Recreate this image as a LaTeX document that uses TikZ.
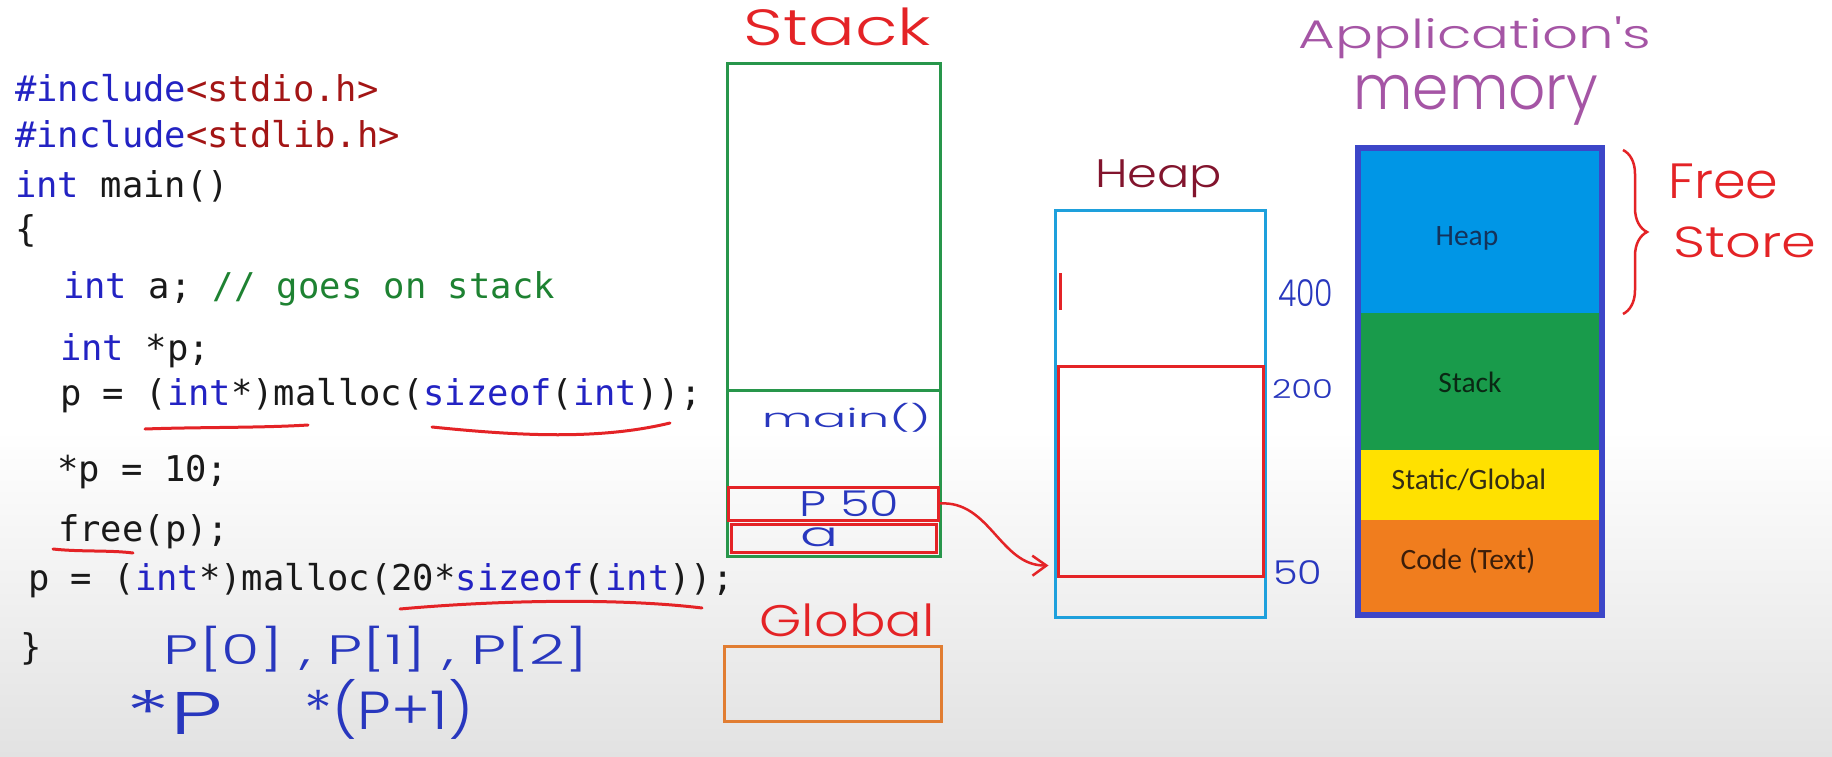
\documentclass[tikz,border=0pt]{standalone}
\usepackage{fontspec}
\usepackage{graphicx}
\setmonofont{DejaVu Sans Mono}
\IfFontExistsTF{Poppins Light}{\newfontfamily\hwfont{Poppins Light}}{\newfontfamily\hwfont{Poppins}}
\newfontfamily\calfont{Carlito}
\usetikzlibrary{fit,decorations.pathreplacing,arrows.meta}
\definecolor{bggray}{RGB}{226,226,226}
\definecolor{codeblue}{RGB}{35,35,195}
\definecolor{codered}{RGB}{163,21,21}
\definecolor{codegreen}{RGB}{30,130,50}
\definecolor{codeblack}{RGB}{25,25,25}
\definecolor{stkgreen}{RGB}{40,150,75}
\definecolor{hred}{RGB}{228,35,38}
\definecolor{globorange}{RGB}{225,125,50}
\definecolor{heapcyan}{RGB}{30,160,220}
\definecolor{memblue}{RGB}{60,70,200}
\definecolor{memheap}{RGB}{0,150,230}
\definecolor{memstack}{RGB}{25,155,75}
\definecolor{memyellow}{RGB}{255,225,0}
\definecolor{memorange}{RGB}{240,125,30}
\definecolor{hwblue}{RGB}{40,55,190}
\definecolor{hwmaroon}{RGB}{130,20,45}
\definecolor{hwpurple}{RGB}{165,85,165}
\newcommand\kw[1]{\textcolor{codeblue}{#1}}
\newcommand\cstr[1]{\textcolor{codered}{#1}}
\newcommand\cmt[1]{\textcolor{codegreen}{#1}}
\newcommand\hwbox[3]{\resizebox*{#1pt}{#2pt}{#3}}
\tikzset{
  code/.style={anchor=base west, inner sep=0pt, text=codeblack,
    font=\ttfamily\fontsize{35.5}{40}\selectfont},
  hw/.style={inner sep=0pt, font=\hwfont},
  gbox/.style={draw=stkgreen, line width=3pt, inner sep=0pt},
  rbox/.style={draw=hred, line width=3pt, inner sep=0pt},
  obox/.style={draw=globorange, line width=3pt, inner sep=0pt},
  cbox/.style={draw=heapcyan, line width=3pt, inner sep=0pt},
  redstroke/.style={draw=hred, line width=3pt, line cap=round},
  memsec/.style={inner sep=0pt, draw=none},
  memlbl/.style={inner sep=0pt, font=\calfont\fontsize{29.5}{34}\selectfont},
}
\begin{document}
\begin{tikzpicture}[x=1pt,y=-1pt]
\useasboundingbox (0,0) rectangle (1832,757);
\fill[white] (0,0) rectangle (1832,757);
\shade[top color=white, bottom color=bggray] (0,430) rectangle (1832,757);

% ---- code ----
\node[code] (l1) at (15,102) {\kw{\#include}\cstr{<stdio.h>}};
\node[code] (l2) at (15,148) {\kw{\#include}\cstr{<stdlib.h>}};
\node[code] (l3) at (15,197) {\kw{int} main()};
\node[code] (l4) at (15,241) {\{};
\node[code] (l5) at (63,298) {\kw{int} a; \cmt{// goes on stack}};
\node[code] (l6) at (60,360) {\kw{int} *p;};
\node[code] (l7) at (60,405) {p = (\kw{int}*)malloc(\kw{sizeof}(\kw{int}));};
\node[code] (l8) at (57,481) {*p = 10;};
\node[code] (l9) at (58,541) {free(p);};
\node[code] (l10) at (28,590) {p = (\kw{int}*)malloc(20*\kw{sizeof}(\kw{int}));};
\node[code] (l11) at (20,659) {\}};

% red underlines
\draw[redstroke] (145,429) .. controls (200,427) and (260,428) .. (308,425);
\draw[redstroke] (432,427) .. controls (520,436) and (600,440) .. (670,423);
\draw[redstroke] (53,549) .. controls (80,552) and (110,550) .. (133,553);
\draw[redstroke] (400,609) .. controls (500,600) and (620,598) .. (702,608);

% handwritten notes under code
\node[hw, text=hwblue] (parr) at (376,649.5) {\hwbox{424}{46}{P[0] , P[1] , P[2]}};
\node[hw, text=hwblue] (starp) at (174.5,712) {\hwbox{96}{44}{*P}};
\node[hw, text=hwblue] (starp1) at (389,709) {\hwbox{168}{60}{*(P+1)}};

% ---- stack ----
\node[hw, text=hred] (stacklbl) at (837.5,27) {\hwbox{187}{38}{Stack}};
\node[gbox, fit={(727,64)(940,556)}] (stack) {};
\draw[draw=stkgreen, line width=3pt] (727,390) -- (940,390);
\node[hw, text=hwblue] (mainlbl) at (846.5,417.5) {\hwbox{169}{29}{main()}};
\node[rbox, fit={(728,487)(938,520)}] (pbox) {};
\node[rbox, fit={(731,524)(936,552)}] (abox) {};
\node[hw, text=hwblue] (plbl) at (849.5,504) {\hwbox{99}{26}{P 50}};
\node[hw, text=hwblue] (albl) at (819,537.5) {\hwbox{38}{19}{a}};

% ---- global ----
\node[hw, text=hred] (globallbl) at (847,620.5) {\hwbox{175}{33}{Global}};
\node[obox, fit={(724,646)(941,721)}] (global) {};

% ---- heap ----
\node[hw, text=hwmaroon] (heaplbl) at (1158.5,179) {\hwbox{127}{38}{Heap}};
\node[cbox, fit={(1055,210)(1265,617)}] (heap) {};
\node[rbox, fit={(1058,366)(1263,576)}] (halloc) {};
\draw[redstroke, line cap=butt] (1060,273) -- (1060,310);
\node[hw, text=hwblue] (n400) at (1305.5,293.5) {\hwbox{55}{27}{400}};
\node[hw, text=hwblue] (n200) at (1302.5,389) {\hwbox{61}{19}{200}};
\node[hw, text=hwblue] (n50) at (1297.5,573) {\hwbox{49}{24}{50}};

\draw[draw=hred, line width=2.5pt, line cap=round,
  -{Straight Barb[length=14pt,width=20pt,line width=2.5pt]}]
  (pbox.east) .. controls (990,500) and (1000,566) .. ([shift={(-8,-12)}]halloc.south west);

% ---- application's memory ----
\node[hw, text=hwpurple] (applbl) at (1475,38) {\hwbox{352}{42}{Application's}};
\node[hw, text=hwpurple] (memlbl) at (1476,100) {\hwbox{245}{50}{memory}};
\node[memsec, fill=memheap, fit={(1358,148)(1602,313)}] (secheap) {};
\node[memsec, fill=memstack, fit={(1358,313)(1602,450)}] (secstack) {};
\node[memsec, fill=memyellow, fit={(1358,450)(1602,520)}] (secstatic) {};
\node[memsec, fill=memorange, fit={(1358,520)(1602,615)}] (seccode) {};
\node[draw=memblue, line width=6pt, inner sep=0pt, fit={(1358,148)(1602,615)}] (mem) {};
\node[memlbl, text={rgb,255:red,20;green,50;blue,90}] (lheap) at (1467,238) {Heap};
\node[memlbl, text={rgb,255:red,10;green,40;blue,20}] (lstack) at (1470,382) {Stack};
\node[memlbl, text={rgb,255:red,50;green,45;blue,20}] (lstatic) at (1469,480) {Static/Global};
\node[memlbl, text={rgb,255:red,60;green,30;blue,10}] (lcode) at (1468,561) {Code (Text)};

% free store brace
\draw[draw=hred, line width=2.5pt, decorate, decoration={brace, amplitude=24pt}]
  (1623,150) -- (1623,314);
\node[hw, text=hred] (freelbl) at (1723.5,181) {\hwbox{110}{35}{Free}};
\node[hw, text=hred] (storelbl) at (1745,242) {\hwbox{143}{31}{Store}};
\end{tikzpicture}
\end{document}
